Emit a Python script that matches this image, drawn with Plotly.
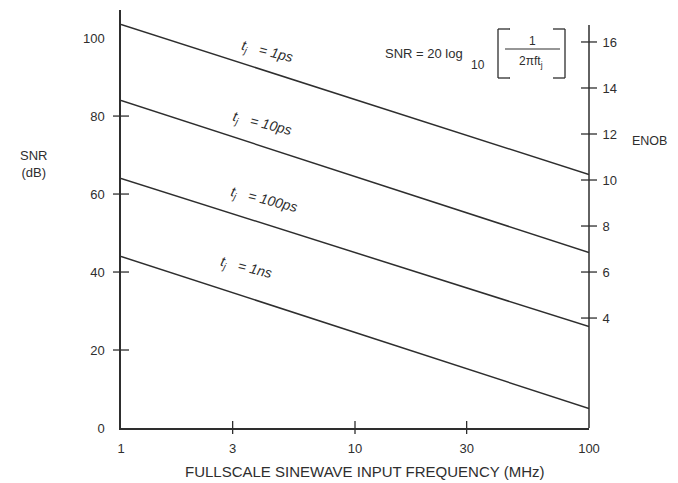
import plotly.graph_objects as go

# ---- data ----
freq_mhz = [1, 100]
snr_1ps = [103.5, 65.0]
snr_10ps = [84.0, 45.0]
snr_100ps = [64.0, 26.0]
snr_1ns = [44.0, 5.0]
series_labels = ["1ps", "10ps", "100ps", "1ns"]

x_tick_vals = [1, 3, 10, 30, 100]
x_tick_text = ["1", "3", "10", "30", "100"]
y_tick_vals = [0, 20, 40, 60, 80, 100]
enob_tick_vals = [4, 6, 8, 10, 12, 14, 16]

# page has an 8px body margin; figure sized to fit the visible window area
OFF = 8
W, H = 662, 475
L, T = 121 - OFF, 10 - OFF
R = W - (589 - OFF)
B = H - (428 - OFF)
PW, PH = W - L - R, H - T - B


def px(x):  # window pixel -> paper
    return (x - OFF - L) / PW


def py(y):
    return (H - B - (y - OFF)) / PH


INK = "#2e2e2e"
FONT = "Liberation Sans, Arial, sans-serif"
NB = "\u00a0"

fig = go.Figure()
for vals in [snr_1ps, snr_10ps, snr_100ps, snr_1ns]:
    fig.add_trace(go.Scatter(x=freq_mhz, y=vals, mode="lines",
                             line=dict(color=INK, width=1.5),
                             showlegend=False, hoverinfo="skip"))
# placeholder trace so the ENOB axis is drawn
fig.add_trace(go.Scatter(x=[None], y=[None], yaxis="y2", showlegend=False))

shapes = []
for v in y_tick_vals[1:-1]:
    shapes.append(dict(type="line", xref="paper", yref="y", xsizemode="pixel",
                       xanchor=0, x0=-8, x1=8, y0=v, y1=v,
                       line=dict(color=INK, width=1.3)))
for v in x_tick_vals[1:-1]:
    shapes.append(dict(type="line", xref="x", yref="paper", ysizemode="pixel",
                       yanchor=0, y0=-6, y1=7, x0=v, x1=v,
                       line=dict(color=INK, width=1.3)))
for v in enob_tick_vals:
    shapes.append(dict(type="line", xref="paper", yref="y2", xsizemode="pixel",
                       xanchor=1, x0=-8, x1=8, y0=v, y1=v,
                       line=dict(color=INK, width=1.3)))
shapes.append(dict(type="line", xref="paper", yref="paper", x0=1, x1=1,
                   y0=0, y1=py(25), line=dict(color=INK, width=1.5)))
bl, br, bt, bb, serif = 498, 565, 29, 78, 12


def seg(x0, y0, x1, y1, w=1.3):
    shapes.append(dict(type="line", xref="paper", yref="paper",
                       x0=px(x0), x1=px(x1), y0=py(y0), y1=py(y1),
                       line=dict(color=INK, width=w)))


seg(bl, bt, bl, bb)
seg(bl, bt, bl + serif, bt)
seg(bl, bb, bl + serif, bb)
seg(br, bt, br, bb)
seg(br - serif, bt, br, bt)
seg(br - serif, bb, br, bb)
seg(505, 49, 560, 49, 1.1)

ann = []


def note(text, x, y, size=12, angle=0):
    ann.append(dict(text=text, x=px(x), y=py(y), xref="paper", yref="paper",
                    xanchor="center", yanchor="middle",
                    showarrow=False, textangle=angle,
                    font=dict(family=FONT, size=size, color=INK)))


label_pos = [(267, 52), (262, 124), (264, 200), (246, 268)]
for lab, (x, y) in zip(series_labels, label_pos):
    note("<i>t<sub>j</sub>" + NB * 3 + "=" + NB + lab + "</i>", x, y, size=14, angle=14)

note("SNR = 20 log", 424, 53, size=13)
note("10", 478, 65, size=12)
note("1", 532, 41, size=12)
note("2πft<sub>j</sub>", 531, 62, size=12)
note("SNR<br>(dB)", 33, 164, size=13)
note("ENOB", 649, 141, size=12.5)
note("FULLSCALE SINEWAVE INPUT FREQUENCY (MHz)", 365, 471, size=15)

fig.update_layout(
    width=W, height=H,
    margin=dict(l=L, r=R, t=T, b=B, pad=0),
    paper_bgcolor="white", plot_bgcolor="white",
    font=dict(family=FONT, size=13, color=INK),
    shapes=shapes, annotations=ann,
    xaxis=dict(type="log", range=[0, 2], tickvals=x_tick_vals, ticktext=x_tick_text,
               showgrid=False, zeroline=False, showline=True, linecolor=INK, linewidth=1.5,
               ticks="outside", ticklen=8, tickcolor="rgba(0,0,0,0)",
               tickfont=dict(size=13, color=INK)),
    yaxis=dict(range=[0, 107.2], tickvals=y_tick_vals, showgrid=False, zeroline=False,
               showline=True, linecolor=INK, linewidth=1.5,
               ticks="outside", ticklen=12, tickcolor="rgba(0,0,0,0)",
               tickfont=dict(size=13, color=INK)),
    yaxis2=dict(range=[-0.78, 17.39], tickvals=enob_tick_vals, overlaying="y", side="right",
                anchor="x", showgrid=False, zeroline=False, showline=False,
                ticks="outside", ticklen=10, tickcolor="rgba(0,0,0,0)",
                tickfont=dict(size=13, color=INK)),
)

fig.write_html("out.html")
